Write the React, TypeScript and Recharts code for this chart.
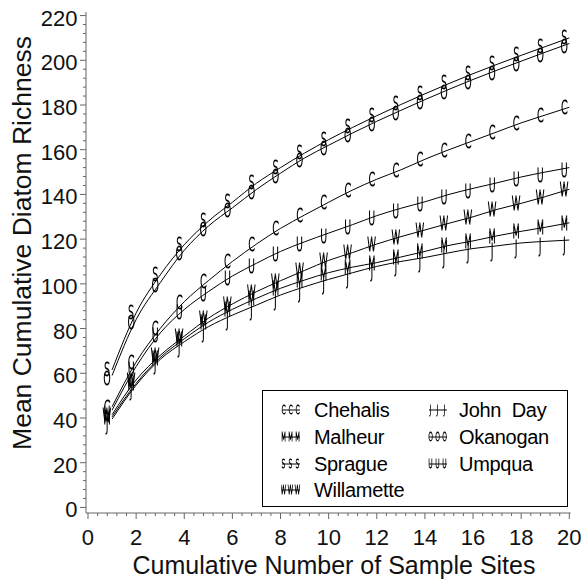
import React from 'react';
import { LineChart, Line, XAxis, YAxis } from 'recharts';

// ---- data ----
const sites = [1, 2, 3, 4, 5, 6, 7, 8, 9, 10, 11, 12, 13, 14, 15, 16, 17, 18, 19, 20];
const chehalis = [45, 65, 80, 92, 101.4, 110, 117.8, 124.8, 130.8, 136.5, 142, 146.8, 151, 155.7, 160, 164, 168, 172, 175.5, 179];
const johnDay = [39.5, 54.7, 66.2, 74.1, 80.8, 86, 90.5, 95, 98.7, 102, 105, 107.8, 110, 111.8, 113.9, 115.8, 117, 118.3, 119, 119.6];
const malheur = [40.5, 55.5, 67, 75.4, 82.8, 88.6, 93.5, 98, 101.7, 105, 107.5, 109.5, 112, 114.5, 117.2, 119.2, 121.5, 123.5, 125.3, 127.3];
const okanogan = [59, 84, 100.5, 115, 125.8, 134, 142.2, 149.5, 156.3, 162, 167.5, 172.7, 177.6, 182.4, 187, 191.4, 195.6, 199.6, 203.6, 207.5];
const sprague = [61.5, 87, 104, 117.5, 128, 136.5, 145, 152, 158.5, 164.5, 170, 175.2, 180.2, 185, 189.6, 194, 198.2, 202.2, 206.1, 210];
const umpqua = [43.5, 63, 78, 88.5, 96.5, 103.5, 109.2, 114.5, 118.8, 122.7, 126.5, 130.5, 133.8, 136.7, 140, 142.7, 145.2, 147.8, 150, 152];
const willamette = [41.5, 57, 68, 76.6, 84.6, 91, 96.5, 101.4, 106, 110.5, 114, 117.8, 121.1, 124.1, 127.1, 130, 133.3, 136, 139, 142.3];

const xTickLabels = [0, 2, 4, 6, 8, 10, 12, 14, 16, 18, 20];
const yTickLabels = [0, 20, 40, 60, 80, 100, 120, 140, 160, 180, 200, 220];

const xTitle = 'Cumulative Number of Sample Sites';
const yTitle = 'Mean Cumulative Diatom Richness';

type Series = { key: string; name: string; glyph: string; values: number[]; dy: number; col: number; row: number };
const series: Series[] = [
  { key: 'chehalis', name: 'Chehalis', glyph: 'C', values: chehalis, dy: 0, col: 0, row: 0 },
  { key: 'malheur', name: 'Malheur', glyph: 'M', values: malheur, dy: 0, col: 0, row: 1 },
  { key: 'sprague', name: 'Sprague', glyph: 'S', values: sprague, dy: -1, col: 0, row: 2 },
  { key: 'willamette', name: 'Willamette', glyph: 'W', values: willamette, dy: 0, col: 0, row: 3 },
  { key: 'johnDay', name: 'John  Day', glyph: 'J', values: johnDay, dy: 4, col: 1, row: 0 },
  { key: 'okanogan', name: 'Okanogan', glyph: 'O', values: okanogan, dy: 2.5, col: 1, row: 1 },
  { key: 'umpqua', name: 'Umpqua', glyph: 'U', values: umpqua, dy: 2.5, col: 1, row: 2 },
];

const data = sites.map((s, i) => {
  const row: Record<string, number> = { site: s };
  series.forEach((se) => {
    row[se.key] = se.values[i];
  });
  return row;
});

// minor tick positions (subdivide major intervals into 5)
const subdivide = (majors: number[], n: number) => {
  const out: number[] = [];
  for (let i = 0; i < majors.length - 1; i++) {
    for (let j = 0; j < n; j++) out.push(majors[i] + ((majors[i + 1] - majors[i]) * j) / n);
  }
  out.push(majors[majors.length - 1]);
  return out;
};
const xTicksAll = subdivide(xTickLabels, 5);
const yTicksAll = subdivide(yTickLabels, 5);
const isMajor = (v: number, majors: number[]) => majors.some((m) => Math.abs(m - v) < 1e-6);

const FONT = '"Liberation Sans", Arial, sans-serif';
const GLYPH_FONT = '"DejaVu Sans", sans-serif';
const AXIS_COLOR = '#666';

const XTick = (props: any) => {
  const { x, y, payload } = props;
  const major = isMajor(payload.value, xTickLabels);
  return (
    <g>
      <line x1={x} x2={x} y1={y} y2={y + (major ? 6 : 3)} stroke={AXIS_COLOR} strokeWidth={1} />
      {major && (
        <text x={x} y={y + 32} textAnchor="middle" fontSize={22} fontFamily={FONT} fill="#111">
          {Math.round(payload.value)}
        </text>
      )}
    </g>
  );
};

const YTick = (props: any) => {
  const { x, y, payload } = props;
  const major = isMajor(payload.value, yTickLabels);
  return (
    <g>
      <line x1={x - (major ? 6 : 3)} x2={x} y1={y} y2={y} stroke={AXIS_COLOR} strokeWidth={1} />
      {major && (
        <text x={x - 8.5} y={y + 10} textAnchor="end" fontSize={22} fontFamily={FONT} fill="#111">
          {Math.round(payload.value)}
        </text>
      )}
    </g>
  );
};

const Glyph = ({ cx, cy, glyph, size, sx, sw }: { cx: number; cy: number; glyph: string; size: number; sx: number; sw: number }) => (
  <g filter="url(#glyphGray)">
    <g transform={`translate(${cx},${cy}) scale(${sx},1)`}>
      <text
        x={0}
        y={size * 0.365}
        textAnchor="middle"
        fontSize={size}
        fontFamily={GLYPH_FONT}
        fontWeight={200}
        fill="none"
        stroke="#000"
        strokeWidth={sw}
      >
        {glyph}
      </text>
    </g>
  </g>
);

const makeDot = (se: Series) => (props: any) => {
  const { cx, cy, index } = props;
  if (cx == null || cy == null) return <g key={`${se.key}-${index}`} />;
  return (
    <g key={`${se.key}-${index}`}>
      <Glyph cx={cx - 5} cy={cy + se.dy} glyph={se.glyph} size={19} sx={0.5} sw={1.1} />
    </g>
  );
};

const LegendSample = ({ glyph }: { glyph: string }) => (
  <svg width={20} height={14} style={{ display: 'block' }}>
    <line x1={1} x2={19} y1={7} y2={7} stroke="#000" strokeWidth={1} />
    {[2.5, 9.5, 16.5].map((gx) => (
      <Glyph key={gx} cx={gx} cy={7} glyph={glyph} size={12} sx={0.5} sw={0.9} />
    ))}
  </svg>
);

export default function App() {
  const legendLeft = 262;
  const legendTop = 390;
  const colGlyphX = [17.5, 164.5];
  const colTextX = [51, 196];
  const rowY = [19.8, 47, 73.5, 100];
  return (
    <div style={{ position: 'absolute', left: 0, top: 0, width: 583, height: 585, background: '#fff', fontFamily: FONT }}>
      <svg width={0} height={0} style={{ position: 'absolute' }}>
        <defs>
          <filter id="glyphGray" x="-50%" y="-50%" width="200%" height="200%" colorInterpolationFilters="sRGB">
            <feColorMatrix type="saturate" values="0" />
          </filter>
        </defs>
      </svg>
      <LineChart width={583} height={585} data={data} margin={{ top: 12, right: 12.3, bottom: 0, left: 0 }}>
        <XAxis
          dataKey="site"
          type="number"
          domain={[-0.083, 20.058]}
          ticks={xTicksAll}
          interval={0}
          height={72}
          tickSize={0}
          tickMargin={0}
          tickLine={false}
          tick={<XTick />}
          axisLine={{ stroke: AXIS_COLOR, strokeWidth: 1 }}
          allowDataOverflow
        />
        <XAxis
          xAxisId="top"
          orientation="top"
          type="number"
          domain={[-0.083, 20.058]}
          height={0}
          tick={false}
          tickLine={false}
          axisLine={{ stroke: AXIS_COLOR, strokeWidth: 1 }}
          allowDataOverflow
        />
        <YAxis
          type="number"
          domain={[-2.5, 221.6]}
          ticks={yTicksAll}
          interval={0}
          width={86}
          tickSize={0}
          tickMargin={0}
          tickLine={false}
          tick={<YTick />}
          axisLine={{ stroke: AXIS_COLOR, strokeWidth: 1 }}
          allowDataOverflow
        />
        <YAxis
          yAxisId="right"
          orientation="right"
          type="number"
          domain={[-2.5, 221.6]}
          width={0}
          tick={false}
          tickLine={false}
          axisLine={{ stroke: AXIS_COLOR, strokeWidth: 1.5 }}
          allowDataOverflow
        />
        {series.map((se) => (
          <Line
            key={se.key}
            dataKey={se.key}
            name={se.name}
            type="monotone"
            stroke="#000"
            strokeWidth={1}
            dot={makeDot(se)}
            activeDot={false}
            isAnimationActive={false}
          />
        ))}
      </LineChart>

      {/* legend */}
      <div
        style={{
          position: 'absolute',
          left: legendLeft,
          top: legendTop,
          width: 306,
          height: 117,
          border: '1px solid #000',
          boxSizing: 'border-box',
          background: '#fff',
        }}
      >
        {series.map((se) => (
          <React.Fragment key={se.key}>
            <div style={{ position: 'absolute', left: colGlyphX[se.col], top: rowY[se.row] - 7 - 1 }}>
              <LegendSample glyph={se.glyph} />
            </div>
            <div
              style={{
                position: 'absolute',
                left: colTextX[se.col],
                top: rowY[se.row] - 12 - 1,
                fontSize: 20,
                lineHeight: '24px',
                letterSpacing: -0.3,
                whiteSpace: 'pre',
                color: '#000',
              }}
            >
              {se.name}
            </div>
          </React.Fragment>
        ))}
      </div>

      {/* axis titles */}
      <div
        style={{
          position: 'absolute',
          left: 334 - 250,
          top: 565 - 15,
          width: 500,
          textAlign: 'center',
          fontSize: 25,
          lineHeight: '30px',
          whiteSpace: 'pre',
          color: '#111',
        }}
      >
        {xTitle}
      </div>
      <div
        style={{
          position: 'absolute',
          left: 22 - 250,
          top: 243 - 15,
          width: 500,
          textAlign: 'center',
          fontSize: 26.5,
          lineHeight: '30px',
          whiteSpace: 'pre',
          color: '#111',
          transform: 'rotate(-90deg)',
          transformOrigin: '250px 15px',
        }}
      >
        {yTitle}
      </div>
    </div>
  );
}
